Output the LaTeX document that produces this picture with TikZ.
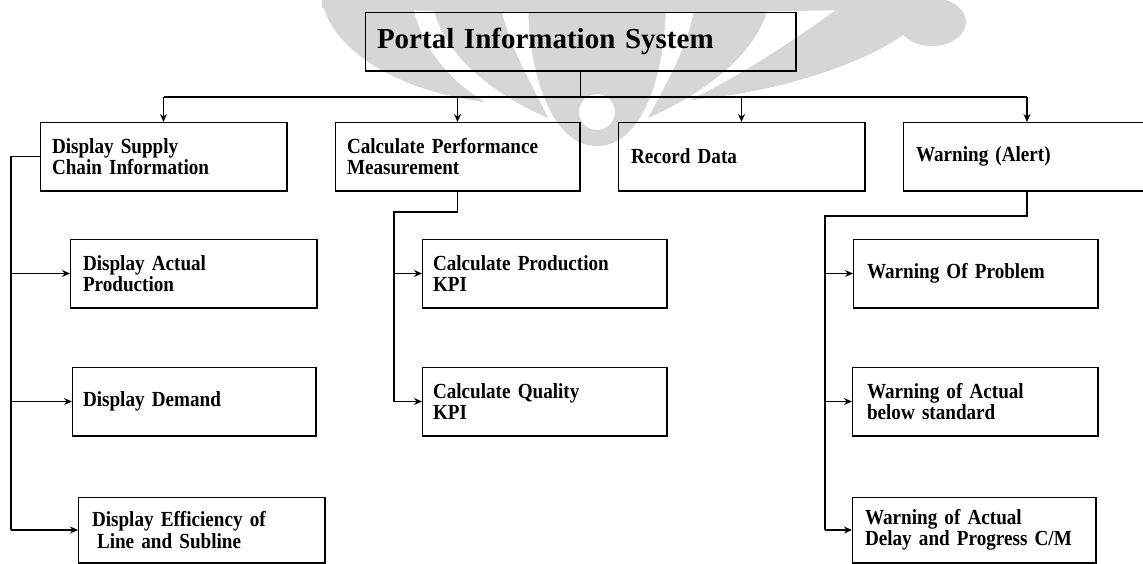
\documentclass[tikz,border=0pt]{standalone}
\usepackage{fontspec}
\setmainfont{Liberation Serif}[WordSpace=0.8]
\newfontfamily\boxfont{Liberation Serif}[FakeStretch=0.89,WordSpace=0.75]
\usetikzlibrary{arrows.meta}
\definecolor{wmgray}{RGB}{214,214,214}
\newcommand{\frameit}[1]{%
  \draw[thinedge] (#1.south west) -- (#1.north west) -- (#1.north east);
  \draw[thickedge] (#1.north east) -- (#1.south east) -- (#1.south west);}
\begin{document}
\begin{tikzpicture}[x=1pt,y=-1pt,
  thinedge/.style={line width=0.8pt},
  thickedge/.style={line width=1.9pt},
  link/.style={line width=1.2pt},
  arr/.style={link,-{Stealth[length=8pt,width=7pt]}},
  box/.style={rectangle, anchor=north west, align=left, inner ysep=0pt,
    outer sep=0pt, font=\boxfont\fontsize{21.5}{21.5}\selectfont\bfseries},
  wm/.style={fill=wmgray}]
\useasboundingbox (0,0) rectangle (1143,564);
\clip (0,0) rectangle (1143,564);

% background emblem (faint)
% left arm
\fill[wm] (322,0) .. controls (330,50) and (400,92) .. (485,102)
  .. controls (445,78) and (418,42) .. (412,0) -- cycle;
% left inner band
\fill[wm] (432,0) .. controls (440,55) and (495,95) .. (548,118)
  .. controls (530,80) and (505,40) .. (500,0) -- cycle;
% central cup with its hollow
\fill[wm, even odd rule] (528,0) .. controls (528,70) and (550,146) .. (597,146)
  .. controls (644,146) and (666,70) .. (666,0) -- cycle
  (597,112) circle (18pt);
% right inner band
\fill[wm] (770,0) .. controls (760,55) and (700,95) .. (648,118)
  .. controls (668,80) and (692,40) .. (695,0) -- cycle;
% right arm
\fill[wm] (935,0) .. controls (915,50) and (790,92) .. (690,100)
  .. controls (740,76) and (792,42) .. (850,0) -- cycle;
% right head
\fill[wm] (932,22) ellipse (34pt and 24pt);
% top crown
\fill[wm] (322,0) -- (940,0) -- (940,8) .. controls (700,14) and (500,14) .. (322,8) -- cycle;

% boxes
\node[box, inner xsep=12pt, text width=407pt, minimum height=59pt,
  font=\fontsize{29}{32}\selectfont\bfseries] (top) at (365,12)
  {Portal Information System};
\node[box, inner xsep=12pt, text width=223pt, minimum height=69pt] (sc) at (40,122)
  {Display Supply\\Chain Information};
\node[box, inner xsep=12pt, text width=221pt, minimum height=69pt] (cp) at (335,122)
  {Calculate Performance\\Measurement};
\node[box, inner xsep=13pt, text width=221pt, minimum height=69pt] (rd) at (618,122)
  {Record Data};
\node[box, inner xsep=13pt, text width=222pt, minimum height=69pt] (wa) at (903,122)
  {Warning (Alert)};
\node[box, inner xsep=13pt, text width=221pt, minimum height=69pt] (da) at (70,239)
  {Display Actual\\Production};
\node[box, inner xsep=11pt, text width=222pt, minimum height=69pt] (dd) at (72,367)
  {Display Demand};
\node[box, inner xsep=14pt, text width=219pt, minimum height=66pt] (de) at (78,497)
  {Display Efficiency of\\\hspace*{5pt}Line and Subline};
\node[box, inner xsep=11pt, text width=223pt, minimum height=69pt] (cpk) at (422,239)
  {Calculate Production\\KPI};
\node[box, inner xsep=11pt, text width=223pt, minimum height=69pt] (cq) at (422,367)
  {Calculate Quality\\KPI};
\node[box, inner xsep=14pt, text width=217pt, minimum height=69pt] (wp) at (853,239)
  {Warning Of Problem};
\node[box, inner xsep=15pt, text width=216pt, minimum height=69pt] (wb) at (852,367)
  {Warning of Actual\\below standard};
\node[box, inner xsep=13pt, text width=218pt, minimum height=66pt] (wd) at (852,497)
  {Warning of Actual\\Delay and Progress C/M};

\foreach \n in {top,sc,cp,rd,wa,da,dd,de,cpk,cq,wp,wb,wd} {\frameit{\n}}

% top level bus
\coordinate (busY) at (0,97);
\draw[link] (top.south) -- (top.south |- busY);
\draw[link] (sc.north |- busY) -- (wa.north |- busY);
\foreach \n in {sc,cp,rd,wa} {\draw[arr] (\n.north |- busY) -- (\n.north);}

% supply chain branch
\coordinate (lt) at (11,0);
\draw[link] (sc.west) -- (sc.west -| lt) -- (lt |- de.west);
\foreach \n in {da,dd,de} {\draw[arr] (lt |- \n.west) -- (\n.west);}

% performance branch
\coordinate (mt) at (394,212);
\draw[link] (cp.south) -- (cp.south |- mt) -- (mt) -- (mt |- cq.west);
\foreach \n in {cpk,cq} {\draw[arr] (mt |- \n.west) -- (\n.west);}

% warning branch
\coordinate (rt) at (825,216);
\draw[link] (wa.south) -- (wa.south |- rt) -- (rt) -- (rt |- wd.west);
\foreach \n in {wp,wb,wd} {\draw[arr] (rt |- \n.west) -- (\n.west);}
\end{tikzpicture}
\end{document}
